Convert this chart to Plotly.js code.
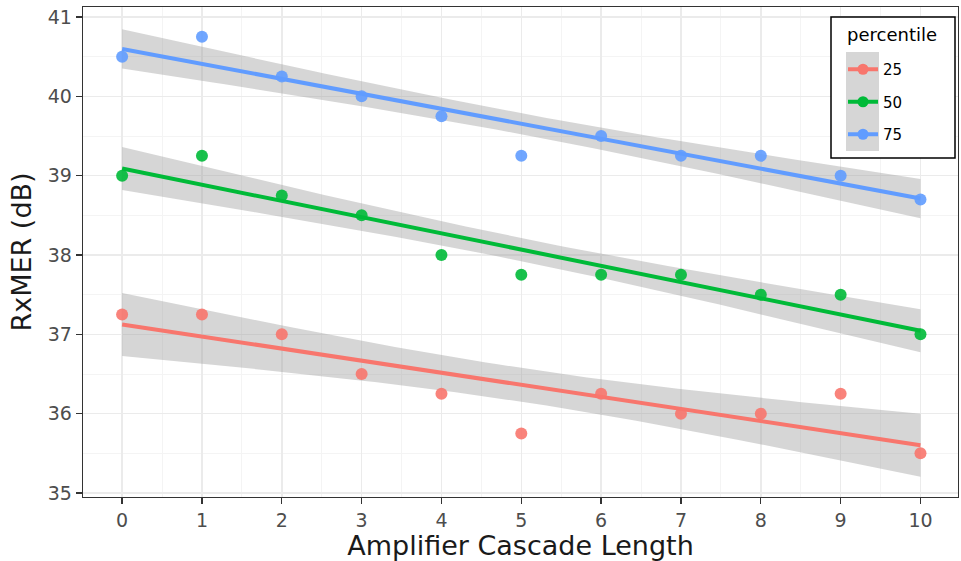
<!DOCTYPE html>
<html>
<head>
<meta charset="utf-8">
<script src="https://cdn.plot.ly/plotly-3.0.1.min.js"></script>
<style>html,body{margin:0;padding:0;background:#fff;}#chart{width:961px;height:561px;}</style>
</head>
<body>
<div id="chart"></div>
<script>
const cascade = [0, 1, 2, 3, 4, 5, 6, 7, 8, 9, 10];
const p25 = [37.25, 37.25, 37.0, 36.5, 36.25, 35.75, 36.25, 36.0, 36.0, 36.25, 35.5];
const p50 = [39.0, 39.25, 38.75, 38.5, 38.0, 37.75, 37.75, 37.75, 37.5, 37.5, 37.0];
const p75 = [40.5, 40.75, 40.25, 40.0, 39.75, 39.25, 39.5, 39.25, 39.25, 39.0, 38.7];
const seriesNames = ['25', '50', '75'];
const seriesColors = ['#F8766D', '#00BA38', '#619CFF'];
const xTicks = [0, 1, 2, 3, 4, 5, 6, 7, 8, 9, 10];
const yTicks = [35, 36, 37, 38, 39, 40, 41];

// linear model fit with 95% confidence band (like geom_smooth(method = "lm"))
function lmFit(x, y) {
  const n = x.length;
  const mx = x.reduce((a, b) => a + b, 0) / n;
  const my = y.reduce((a, b) => a + b, 0) / n;
  let sxx = 0, sxy = 0;
  for (let i = 0; i < n; i++) { sxx += (x[i] - mx) ** 2; sxy += (x[i] - mx) * (y[i] - my); }
  const b = sxy / sxx, a = my - b * mx;
  let sse = 0;
  for (let i = 0; i < n; i++) sse += (y[i] - (a + b * x[i])) ** 2;
  const s = Math.sqrt(sse / (n - 2));
  const t = 2.262157; // qt(0.975, 9)
  const xmin = Math.min(...x), xmax = Math.max(...x);
  const gx = [], fit = [], lo = [], hi = [];
  const steps = 80;
  for (let k = 0; k < steps; k++) {
    const xv = xmin + (xmax - xmin) * k / (steps - 1);
    const yv = a + b * xv;
    const se = s * Math.sqrt(1 / n + (xv - mx) ** 2 / sxx);
    gx.push(xv); fit.push(yv); lo.push(yv - t * se); hi.push(yv + t * se);
  }
  return { gx, fit, lo, hi };
}

const allSeries = [p25, p50, p75];
const traces = [];
allSeries.forEach((ys, i) => {
  const f = lmFit(cascade, ys);
  traces.push({
    x: f.gx.concat(f.gx.slice().reverse()),
    y: f.hi.concat(f.lo.slice().reverse()),
    type: 'scatter', mode: 'lines', fill: 'toself',
    fillcolor: 'rgba(153,153,153,0.4)', line: { width: 0 },
    hoverinfo: 'skip', showlegend: false
  });
});
allSeries.forEach((ys, i) => {
  const f = lmFit(cascade, ys);
  traces.push({
    x: f.gx, y: f.fit, type: 'scatter', mode: 'lines',
    line: { color: seriesColors[i], width: 4 }, showlegend: false
  });
});
allSeries.forEach((ys, i) => {
  traces.push({
    x: cascade, y: ys, type: 'scatter', mode: 'markers',
    marker: { color: seriesColors[i], size: 12, opacity: 0.9 }, showlegend: false
  });
});
// legend entries (point + line, like ggplot keys)
seriesNames.forEach((nm, i) => {
  traces.push({
    x: [null], y: [null], type: 'scatter', mode: 'lines+markers', name: nm,
    legendgroup: 'g' + i,
    line: { color: seriesColors[i], width: 4 },
    marker: { color: seriesColors[i], size: 11 }, showlegend: true
  });
});

// plot area in pixels: x 83..958, y 7..497
const px = v => (v - 83) / 875;
const py = v => (497 - v) / 490;

const gridMajor = '#EBEBEB', gridMinor = '#F4F4F4';
const layout = {
  width: 961, height: 561,
  margin: { l: 83, r: 3, t: 7, b: 64 },
  paper_bgcolor: '#fff', plot_bgcolor: '#fff',
  font: { family: 'DejaVu Sans', color: '#000' },
  showlegend: true,
  legend: {
    x: px(843), y: py(53), xanchor: 'left', yanchor: 'top',
    bgcolor: 'rgba(0,0,0,0)', borderwidth: 0,
    font: { size: 15, color: '#000' },
    traceorder: 'grouped', tracegroupgap: 10
  },
  xaxis: {
    range: [-0.49, 10.47], tickvals: xTicks, ticktext: xTicks.map(String),
    showgrid: true, gridcolor: gridMajor, gridwidth: 1.5,
    minor: { dtick: 0.5, showgrid: true, gridcolor: gridMinor, gridwidth: 1 },
    zeroline: false, showline: true, mirror: true, linecolor: '#333', linewidth: 1.3,
    ticks: 'outside', ticklen: 6, tickcolor: '#333', tickwidth: 1.3,
    tickfont: { size: 19, color: '#4D4D4D' },
    title: { text: 'Amplifier Cascade Length', font: { size: 27, color: '#1a1a1a' }, standoff: 6 }
  },
  yaxis: {
    range: [34.95, 41.126], tickvals: yTicks, ticktext: yTicks.map(String),
    showgrid: true, gridcolor: gridMajor, gridwidth: 1.5,
    minor: { dtick: 0.5, showgrid: true, gridcolor: gridMinor, gridwidth: 1 },
    zeroline: false, showline: true, mirror: true, linecolor: '#333', linewidth: 1.3,
    ticks: 'outside', ticklen: 6, tickcolor: '#333', tickwidth: 1.3,
    tickfont: { size: 19, color: '#4D4D4D' },
    title: { text: 'RxMER (dB)', font: { size: 27, color: '#1a1a1a' }, standoff: 8 }
  },
  shapes: [
    { type: 'rect', xref: 'paper', yref: 'paper', layer: 'above',
      x0: px(831), x1: px(955), y0: py(158), y1: py(17),
      fillcolor: '#fff', line: { color: '#000', width: 1.5 } },
    { type: 'rect', xref: 'paper', yref: 'paper', layer: 'above',
      x0: px(846), x1: px(879), y0: py(151), y1: py(52),
      fillcolor: 'rgba(153,153,153,0.4)', line: { width: 0 } }
  ],
  annotations: [
    { text: 'percentile', xref: 'paper', yref: 'paper', x: px(845), y: py(34),
      xanchor: 'left', yanchor: 'middle', showarrow: false,
      font: { size: 18, color: '#000' } }
  ]
};

Plotly.newPlot('chart', traces, layout, { displayModeBar: false, staticPlot: true });
</script>
</body>
</html>
